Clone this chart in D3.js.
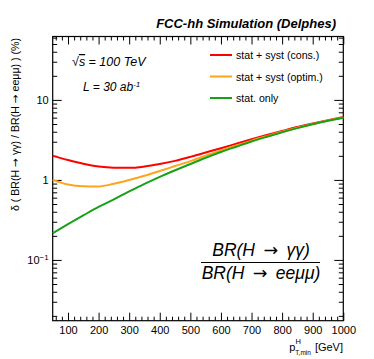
<!DOCTYPE html>
<html>
<head>
<meta charset="utf-8">
<script src="https://cdn.jsdelivr.net/npm/d3@7"></script>
<style>
  body { margin: 0; background: #fff; }
  svg { display: block; font-family: "Liberation Sans", Arial, Helvetica, sans-serif; }
  .tick text { font-size: 11px; fill: #000; }
  .arr { font-family: "DejaVu Sans"; font-style: normal; }
</style>
</head>
<body>
<div id="chart"></div>
<script>
// values
const pTmin = [50, 100, 150, 200, 250, 300, 350, 400, 450, 500, 550, 600, 650, 700, 750, 800, 850, 900, 950, 1000];
const statSystCons  = [2.0, 1.77, 1.59, 1.47, 1.42, 1.415, 1.47, 1.58, 1.73, 1.94, 2.2, 2.49, 2.83, 3.22, 3.64, 4.09, 4.58, 5.08, 5.59, 6.1];
const statSystOptim = [1.0, 0.876, 0.835, 0.83, 0.895, 0.995, 1.125, 1.29, 1.49, 1.72, 2.01, 2.33, 2.69, 3.1, 3.53, 4.0, 4.49, 5.0, 5.52, 6.04];
const statOnly      = [0.216, 0.28, 0.36, 0.46, 0.57, 0.72, 0.89, 1.09, 1.32, 1.58, 1.89, 2.23, 2.6, 3.02, 3.46, 3.94, 4.44, 4.95, 5.48, 6.0];

const seriesNames = ["stat + syst (cons.)", "stat + syst (optim.)", "stat. only"];
const seriesColors = ["#ff0000", "#ffa31a", "#17a117"];
const seriesValues = [statSystCons, statSystOptim, statOnly];

const xMajor = [100, 200, 300, 400, 500, 600, 700, 800, 900, 1000];
const yMajor = [0.1, 1, 10];

var W = 374, H = 359;
var margin = {top: 36.5, right: 30.7, bottom: 38.3, left: 52.7},
    width = W - margin.left - margin.right,
    height = H - margin.top - margin.bottom;

var svg = d3.select("#chart").append("svg")
    .attr("width", W)
    .attr("height", H);

var g = svg.append("g")
    .attr("transform", "translate(" + margin.left + "," + margin.top + ")");

var x = d3.scaleLinear().domain([50, 1000]).range([0, width]);
var y = d3.scaleLog().domain([0.0174, 62]).range([height, 0]);

// minor tick positions
var xMinor = d3.range(60, 1000, 20).filter(v => v % 100 != 0);
var yMinor = [];
[0.01, 0.1, 1, 10].forEach(d => {
  for (var k = 2; k <= 9; k++) {
    var v = d * k;
    if (v >= y.domain()[0] && v <= y.domain()[1]) yMinor.push(v);
  }
});

function yFmt(d) {
  if (d == 1) return "1";
  if (d == 10) return "10";
  return "";
}

// bottom axis
g.append("g")
  .attr("transform", "translate(0," + height + ")")
  .call(d3.axisBottom(x).tickValues(xMajor).tickSize(-8).tickPadding(6).tickFormat(d3.format("d")))
  .call(a => a.select(".domain").remove());
g.append("g")
  .attr("transform", "translate(0," + height + ")")
  .call(d3.axisBottom(x).tickValues(xMinor).tickSize(-4).tickFormat(""))
  .call(a => a.select(".domain").remove());
// top axis
g.append("g")
  .call(d3.axisTop(x).tickValues(xMajor).tickSize(-8).tickFormat(""))
  .call(a => a.select(".domain").remove());
g.append("g")
  .call(d3.axisTop(x).tickValues(xMinor).tickSize(-4).tickFormat(""))
  .call(a => a.select(".domain").remove());

// left axis
var yl = g.append("g")
  .call(d3.axisLeft(y).tickValues(yMajor).tickSize(-9).tickPadding(4).tickFormat(yFmt))
  .call(a => a.select(".domain").remove());
yl.selectAll(".tick text").each(function(d) {
  if (d == 0.1) {
    var t = d3.select(this);
    t.text("10");
    t.append("tspan").attr("dy", "-0.45em").attr("font-size", "8px").text("\u22121");
  }
});
g.append("g")
  .call(d3.axisLeft(y).tickValues(yMinor).tickSize(-4.5).tickFormat(""))
  .call(a => a.select(".domain").remove());
// right axis
g.append("g")
  .attr("transform", "translate(" + width + ",0)")
  .call(d3.axisRight(y).tickValues(yMajor).tickSize(-9).tickFormat(""))
  .call(a => a.select(".domain").remove());
g.append("g")
  .attr("transform", "translate(" + width + ",0)")
  .call(d3.axisRight(y).tickValues(yMinor).tickSize(-4.5).tickFormat(""))
  .call(a => a.select(".domain").remove());

g.selectAll(".tick line").attr("stroke", "#000").attr("stroke-width", 1);

// frame
g.append("rect")
  .attr("width", width).attr("height", height)
  .attr("fill", "none").attr("stroke", "#000").attr("stroke-width", 1.2);

// curves
var line = d3.line()
  .x((d, i) => x(pTmin[i]))
  .y(d => y(d))
  .curve(d3.curveMonotoneX);

seriesValues.forEach((vals, i) => {
  g.append("path")
    .datum(vals)
    .attr("fill", "none")
    .attr("stroke", seriesColors[i])
    .attr("stroke-width", 2)
    .attr("d", line);
});

// legend
var leg = svg.append("g").attr("transform", "translate(210,55)");
seriesNames.forEach((name, i) => {
  var row = leg.append("g").attr("transform", "translate(0," + (i * 21.5) + ")");
  row.append("line").attr("x1", 0).attr("x2", 22).attr("y1", 0).attr("y2", 0)
    .attr("stroke", seriesColors[i]).attr("stroke-width", 2);
  row.append("text").attr("x", 26).attr("y", 4)
    .attr("font-size", "10.6px").text(name);
});

// header text
svg.append("text")
  .attr("x", 336).attr("y", 27.5)
  .attr("text-anchor", "end")
  .attr("font-size", "13px").attr("font-weight", "bold").attr("font-style", "italic")
  .text("FCC-hh Simulation (Delphes)");

var t1 = svg.append("text").attr("x", 72).attr("y", 66)
  .attr("font-size", "12.5px").attr("font-style", "italic");
t1.append("tspan").text("\u221A");
t1.append("tspan").attr("text-decoration", "overline").text("s");
t1.append("tspan").text(" = 100 TeV");

var t2 = svg.append("text").attr("x", 83).attr("y", 91)
  .attr("font-size", "12px").attr("font-style", "italic");
t2.append("tspan").text("L = 30  ab");
t2.append("tspan").attr("dy", "-0.45em").attr("font-size", "8px").text("-1");

// text with a wide arrow glyph
function arrowText(sel, before, after) {
  sel.append("tspan").text(before);
  sel.append("tspan").attr("class", "arr").text("\u2192");
  sel.append("tspan").text(after);
}

// ratio formula
var fx = 261;
arrowText(svg.append("text").attr("x", fx).attr("y", 256).attr("text-anchor", "middle")
  .attr("font-size", "17.5px").attr("font-style", "italic"),
  "BR(H \u2009", " \u2009\u03B3\u03B3)");
svg.append("line").attr("x1", 201).attr("x2", 320).attr("y1", 262.5).attr("y2", 262.5)
  .attr("stroke", "#000").attr("stroke-width", 1.2);
arrowText(svg.append("text").attr("x", fx).attr("y", 279).attr("text-anchor", "middle")
  .attr("font-size", "17.5px").attr("font-style", "italic"),
  "BR(H \u2009", " \u2009ee\u03BC\u03BC)");

// y title
var yt = svg.append("text")
  .attr("transform", "translate(19,38) rotate(-90)")
  .attr("text-anchor", "end")
  .attr("font-size", "10.6px");
yt.append("tspan").text("\u03B4 ( BR(H ");
yt.append("tspan").attr("class", "arr").text("\u2192");
yt.append("tspan").text(" \u03B3\u03B3) / BR(H ");
yt.append("tspan").attr("class", "arr").text("\u2192");
yt.append("tspan").text(" ee\u03BC\u03BC) ) (%)");

// x title
var xt = svg.append("text").attr("x", 343).attr("y", 351).attr("text-anchor", "end")
  .attr("font-size", "11px");
xt.append("tspan").text("p");
xt.append("tspan").attr("dy", -7).attr("font-size", "7.5px").text("H");
xt.append("tspan").attr("dx", -5.5).attr("dy", 11).attr("font-size", "6.5px").text("T,min");
xt.append("tspan").attr("dy", -4).attr("dx", 4).text("[GeV]");
</script>
</body>
</html>
